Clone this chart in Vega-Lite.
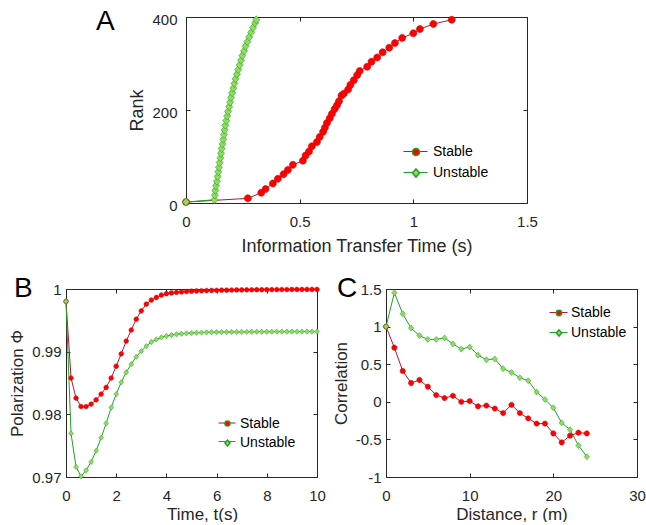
{
  "$schema": "https://vega.github.io/schema/vega-lite/v6.json",
  "background": "white",
  "padding": {"left": 8, "top": 8, "right": 0, "bottom": 0},
  "config": {
    "font": "Liberation Sans",
    "view": {"stroke": null},
    "axis": {
      "grid": false,
      "domainColor": "#262626",
      "domainWidth": 1,
      "tickColor": "#262626",
      "tickWidth": 1,
      "tickSize": -4,
      "labelFontSize": 15,
      "labelColor": "#262626",
      "labelFont": "Liberation Sans",
      "labelFlush": false,
      "labelOverlap": false,
      "labelExpr": "'' + datum.value",
      "titleFontSize": 17,
      "titleFontWeight": "normal",
      "titleColor": "#262626",
      "titleFont": "Liberation Sans"
    },
    "legend": {"labelFontSize": 14, "labelColor": "#000000", "labelFont": "Liberation Sans", "padding": 0},
    "title": {"fontSize": 28, "fontWeight": "normal", "anchor": "start", "frame": "group", "baseline": "alphabetic", "offset": 0, "color": "#000000", "font": "Liberation Sans"}
  },
  "datasets": {
    "rank": [
      {"series": "Stable", "time": 0, "rank": 2},
      {"series": "Stable", "time": 0.272, "rank": 10},
      {"series": "Stable", "time": 0.331, "rank": 22},
      {"series": "Stable", "time": 0.35, "rank": 30},
      {"series": "Stable", "time": 0.382, "rank": 42},
      {"series": "Stable", "time": 0.404, "rank": 52},
      {"series": "Stable", "time": 0.429, "rank": 62},
      {"series": "Stable", "time": 0.448, "rank": 71},
      {"series": "Stable", "time": 0.47, "rank": 82},
      {"series": "Stable", "time": 0.514, "rank": 91},
      {"series": "Stable", "time": 0.526, "rank": 102},
      {"series": "Stable", "time": 0.541, "rank": 111},
      {"series": "Stable", "time": 0.554, "rank": 122},
      {"series": "Stable", "time": 0.576, "rank": 131},
      {"series": "Stable", "time": 0.588, "rank": 142},
      {"series": "Stable", "time": 0.603, "rank": 153},
      {"series": "Stable", "time": 0.611, "rank": 162},
      {"series": "Stable", "time": 0.62, "rank": 172},
      {"series": "Stable", "time": 0.632, "rank": 182},
      {"series": "Stable", "time": 0.642, "rank": 192},
      {"series": "Stable", "time": 0.654, "rank": 202},
      {"series": "Stable", "time": 0.664, "rank": 210},
      {"series": "Stable", "time": 0.673, "rank": 219},
      {"series": "Stable", "time": 0.684, "rank": 231},
      {"series": "Stable", "time": 0.694, "rank": 235},
      {"series": "Stable", "time": 0.713, "rank": 244},
      {"series": "Stable", "time": 0.723, "rank": 254},
      {"series": "Stable", "time": 0.738, "rank": 264},
      {"series": "Stable", "time": 0.753, "rank": 275},
      {"series": "Stable", "time": 0.764, "rank": 284},
      {"series": "Stable", "time": 0.797, "rank": 293},
      {"series": "Stable", "time": 0.816, "rank": 304},
      {"series": "Stable", "time": 0.841, "rank": 313},
      {"series": "Stable", "time": 0.865, "rank": 324},
      {"series": "Stable", "time": 0.894, "rank": 334},
      {"series": "Stable", "time": 0.919, "rank": 344},
      {"series": "Stable", "time": 0.951, "rank": 355},
      {"series": "Stable", "time": 1.0, "rank": 365},
      {"series": "Stable", "time": 1.029, "rank": 374},
      {"series": "Stable", "time": 1.088, "rank": 385},
      {"series": "Stable", "time": 1.169, "rank": 394},
      {"series": "Unstable", "time": 0, "rank": 2},
      {"series": "Unstable", "time": 0.125, "rank": 7},
      {"series": "Unstable", "time": 0.127, "rank": 17},
      {"series": "Unstable", "time": 0.129, "rank": 27},
      {"series": "Unstable", "time": 0.132, "rank": 37},
      {"series": "Unstable", "time": 0.136, "rank": 47},
      {"series": "Unstable", "time": 0.139, "rank": 57},
      {"series": "Unstable", "time": 0.142, "rank": 67},
      {"series": "Unstable", "time": 0.145, "rank": 77},
      {"series": "Unstable", "time": 0.148, "rank": 87},
      {"series": "Unstable", "time": 0.151, "rank": 97},
      {"series": "Unstable", "time": 0.154, "rank": 107},
      {"series": "Unstable", "time": 0.157, "rank": 117},
      {"series": "Unstable", "time": 0.161, "rank": 127},
      {"series": "Unstable", "time": 0.164, "rank": 137},
      {"series": "Unstable", "time": 0.167, "rank": 147},
      {"series": "Unstable", "time": 0.17, "rank": 157},
      {"series": "Unstable", "time": 0.173, "rank": 167},
      {"series": "Unstable", "time": 0.177, "rank": 177},
      {"series": "Unstable", "time": 0.181, "rank": 187},
      {"series": "Unstable", "time": 0.185, "rank": 197},
      {"series": "Unstable", "time": 0.19, "rank": 207},
      {"series": "Unstable", "time": 0.194, "rank": 217},
      {"series": "Unstable", "time": 0.198, "rank": 227},
      {"series": "Unstable", "time": 0.203, "rank": 237},
      {"series": "Unstable", "time": 0.208, "rank": 247},
      {"series": "Unstable", "time": 0.213, "rank": 257},
      {"series": "Unstable", "time": 0.218, "rank": 267},
      {"series": "Unstable", "time": 0.224, "rank": 277},
      {"series": "Unstable", "time": 0.23, "rank": 287},
      {"series": "Unstable", "time": 0.236, "rank": 297},
      {"series": "Unstable", "time": 0.242, "rank": 307},
      {"series": "Unstable", "time": 0.248, "rank": 317},
      {"series": "Unstable", "time": 0.255, "rank": 327},
      {"series": "Unstable", "time": 0.262, "rank": 337},
      {"series": "Unstable", "time": 0.27, "rank": 347},
      {"series": "Unstable", "time": 0.278, "rank": 357},
      {"series": "Unstable", "time": 0.287, "rank": 367},
      {"series": "Unstable", "time": 0.295, "rank": 377},
      {"series": "Unstable", "time": 0.304, "rank": 387},
      {"series": "Unstable", "time": 0.309, "rank": 394}
    ],
    "pol": [
      {"series": "Stable", "t": 0, "phi": 0.99802},
      {"series": "Stable", "t": 0.2, "phi": 0.9858},
      {"series": "Stable", "t": 0.4, "phi": 0.98259},
      {"series": "Stable", "t": 0.6, "phi": 0.98125},
      {"series": "Stable", "t": 0.8, "phi": 0.98125},
      {"series": "Stable", "t": 1.0, "phi": 0.98163},
      {"series": "Stable", "t": 1.2, "phi": 0.98232},
      {"series": "Stable", "t": 1.4, "phi": 0.98323},
      {"series": "Stable", "t": 1.6, "phi": 0.9843},
      {"series": "Stable", "t": 1.8, "phi": 0.9858},
      {"series": "Stable", "t": 2.0, "phi": 0.98768},
      {"series": "Stable", "t": 2.2, "phi": 0.98966},
      {"series": "Stable", "t": 2.4, "phi": 0.9917},
      {"series": "Stable", "t": 2.6, "phi": 0.99346},
      {"series": "Stable", "t": 2.8, "phi": 0.99518},
      {"series": "Stable", "t": 3.0, "phi": 0.99652},
      {"series": "Stable", "t": 3.2, "phi": 0.99759},
      {"series": "Stable", "t": 3.4, "phi": 0.99823},
      {"series": "Stable", "t": 3.6, "phi": 0.99866},
      {"series": "Stable", "t": 3.8, "phi": 0.99904},
      {"series": "Stable", "t": 4.0, "phi": 0.99925},
      {"series": "Stable", "t": 4.2, "phi": 0.99938},
      {"series": "Stable", "t": 4.4, "phi": 0.99947},
      {"series": "Stable", "t": 4.6, "phi": 0.99954},
      {"series": "Stable", "t": 4.8, "phi": 0.9996},
      {"series": "Stable", "t": 5.0, "phi": 0.99965},
      {"series": "Stable", "t": 5.2, "phi": 0.99969},
      {"series": "Stable", "t": 5.4, "phi": 0.99972},
      {"series": "Stable", "t": 5.6, "phi": 0.99975},
      {"series": "Stable", "t": 5.8, "phi": 0.99977},
      {"series": "Stable", "t": 6.0, "phi": 0.99979},
      {"series": "Stable", "t": 6.2, "phi": 0.99981},
      {"series": "Stable", "t": 6.4, "phi": 0.99982},
      {"series": "Stable", "t": 6.6, "phi": 0.99984},
      {"series": "Stable", "t": 6.8, "phi": 0.99985},
      {"series": "Stable", "t": 7.0, "phi": 0.99986},
      {"series": "Stable", "t": 7.2, "phi": 0.99987},
      {"series": "Stable", "t": 7.4, "phi": 0.99988},
      {"series": "Stable", "t": 7.6, "phi": 0.99989},
      {"series": "Stable", "t": 7.8, "phi": 0.99989},
      {"series": "Stable", "t": 8.0, "phi": 0.9999},
      {"series": "Stable", "t": 8.2, "phi": 0.99991},
      {"series": "Stable", "t": 8.4, "phi": 0.99991},
      {"series": "Stable", "t": 8.6, "phi": 0.99992},
      {"series": "Stable", "t": 8.8, "phi": 0.99992},
      {"series": "Stable", "t": 9.0, "phi": 0.99993},
      {"series": "Stable", "t": 9.2, "phi": 0.99993},
      {"series": "Stable", "t": 9.4, "phi": 0.99993},
      {"series": "Stable", "t": 9.6, "phi": 0.99994},
      {"series": "Stable", "t": 9.8, "phi": 0.99994},
      {"series": "Stable", "t": 10.0, "phi": 0.99994},
      {"series": "Unstable", "t": 0, "phi": 0.99802},
      {"series": "Unstable", "t": 0.2, "phi": 0.97696},
      {"series": "Unstable", "t": 0.4, "phi": 0.97161},
      {"series": "Unstable", "t": 0.6, "phi": 0.97011},
      {"series": "Unstable", "t": 0.8, "phi": 0.97107},
      {"series": "Unstable", "t": 1.0, "phi": 0.97241},
      {"series": "Unstable", "t": 1.2, "phi": 0.97418},
      {"series": "Unstable", "t": 1.4, "phi": 0.97627},
      {"series": "Unstable", "t": 1.6, "phi": 0.97857},
      {"series": "Unstable", "t": 1.8, "phi": 0.98109},
      {"series": "Unstable", "t": 2.0, "phi": 0.98323},
      {"series": "Unstable", "t": 2.2, "phi": 0.98511},
      {"series": "Unstable", "t": 2.4, "phi": 0.98671},
      {"series": "Unstable", "t": 2.6, "phi": 0.988},
      {"series": "Unstable", "t": 2.8, "phi": 0.98918},
      {"series": "Unstable", "t": 3.0, "phi": 0.99009},
      {"series": "Unstable", "t": 3.2, "phi": 0.99089},
      {"series": "Unstable", "t": 3.4, "phi": 0.99154},
      {"series": "Unstable", "t": 3.6, "phi": 0.99196},
      {"series": "Unstable", "t": 3.8, "phi": 0.99229},
      {"series": "Unstable", "t": 4.0, "phi": 0.9925},
      {"series": "Unstable", "t": 4.2, "phi": 0.99266},
      {"series": "Unstable", "t": 4.4, "phi": 0.99277},
      {"series": "Unstable", "t": 4.6, "phi": 0.99286},
      {"series": "Unstable", "t": 4.8, "phi": 0.99293},
      {"series": "Unstable", "t": 5.0, "phi": 0.99298},
      {"series": "Unstable", "t": 5.2, "phi": 0.99302},
      {"series": "Unstable", "t": 5.4, "phi": 0.99305},
      {"series": "Unstable", "t": 5.6, "phi": 0.99308},
      {"series": "Unstable", "t": 5.8, "phi": 0.9931},
      {"series": "Unstable", "t": 6.0, "phi": 0.99312},
      {"series": "Unstable", "t": 6.2, "phi": 0.99313},
      {"series": "Unstable", "t": 6.4, "phi": 0.99314},
      {"series": "Unstable", "t": 6.6, "phi": 0.99315},
      {"series": "Unstable", "t": 6.8, "phi": 0.99316},
      {"series": "Unstable", "t": 7.0, "phi": 0.99316},
      {"series": "Unstable", "t": 7.2, "phi": 0.99317},
      {"series": "Unstable", "t": 7.4, "phi": 0.99317},
      {"series": "Unstable", "t": 7.6, "phi": 0.99318},
      {"series": "Unstable", "t": 7.8, "phi": 0.99318},
      {"series": "Unstable", "t": 8.0, "phi": 0.99318},
      {"series": "Unstable", "t": 8.2, "phi": 0.99319},
      {"series": "Unstable", "t": 8.4, "phi": 0.99319},
      {"series": "Unstable", "t": 8.6, "phi": 0.99319},
      {"series": "Unstable", "t": 8.8, "phi": 0.99319},
      {"series": "Unstable", "t": 9.0, "phi": 0.9932},
      {"series": "Unstable", "t": 9.2, "phi": 0.9932},
      {"series": "Unstable", "t": 9.4, "phi": 0.9932},
      {"series": "Unstable", "t": 9.6, "phi": 0.9932},
      {"series": "Unstable", "t": 9.8, "phi": 0.9932},
      {"series": "Unstable", "t": 10.0, "phi": 0.9932}
    ],
    "corr": [
      {"series": "Stable", "r": 0, "c": 1.0},
      {"series": "Stable", "r": 1, "c": 0.72},
      {"series": "Stable", "r": 2, "c": 0.41},
      {"series": "Stable", "r": 3, "c": 0.25},
      {"series": "Stable", "r": 4, "c": 0.29},
      {"series": "Stable", "r": 5, "c": 0.2},
      {"series": "Stable", "r": 6, "c": 0.09},
      {"series": "Stable", "r": 7, "c": 0.05},
      {"series": "Stable", "r": 8, "c": 0.08},
      {"series": "Stable", "r": 9, "c": 0.0},
      {"series": "Stable", "r": 10, "c": 0.01},
      {"series": "Stable", "r": 11, "c": -0.06},
      {"series": "Stable", "r": 12, "c": -0.05},
      {"series": "Stable", "r": 13, "c": -0.09},
      {"series": "Stable", "r": 14, "c": -0.15},
      {"series": "Stable", "r": 15, "c": -0.04},
      {"series": "Stable", "r": 16, "c": -0.15},
      {"series": "Stable", "r": 17, "c": -0.22},
      {"series": "Stable", "r": 18, "c": -0.29},
      {"series": "Stable", "r": 19, "c": -0.29},
      {"series": "Stable", "r": 20, "c": -0.42},
      {"series": "Stable", "r": 21, "c": -0.54},
      {"series": "Stable", "r": 22, "c": -0.45},
      {"series": "Stable", "r": 23, "c": -0.41},
      {"series": "Stable", "r": 24, "c": -0.42},
      {"series": "Unstable", "r": 0, "c": 1.0},
      {"series": "Unstable", "r": 1, "c": 1.45},
      {"series": "Unstable", "r": 2, "c": 1.17},
      {"series": "Unstable", "r": 3, "c": 0.98},
      {"series": "Unstable", "r": 4, "c": 0.88},
      {"series": "Unstable", "r": 5, "c": 0.83},
      {"series": "Unstable", "r": 6, "c": 0.83},
      {"series": "Unstable", "r": 7, "c": 0.85},
      {"series": "Unstable", "r": 8, "c": 0.77},
      {"series": "Unstable", "r": 9, "c": 0.7},
      {"series": "Unstable", "r": 10, "c": 0.73},
      {"series": "Unstable", "r": 11, "c": 0.62},
      {"series": "Unstable", "r": 12, "c": 0.56},
      {"series": "Unstable", "r": 13, "c": 0.57},
      {"series": "Unstable", "r": 14, "c": 0.44},
      {"series": "Unstable", "r": 15, "c": 0.39},
      {"series": "Unstable", "r": 16, "c": 0.32},
      {"series": "Unstable", "r": 17, "c": 0.28},
      {"series": "Unstable", "r": 18, "c": 0.13},
      {"series": "Unstable", "r": 19, "c": 0.03},
      {"series": "Unstable", "r": 20, "c": -0.08},
      {"series": "Unstable", "r": 21, "c": -0.28},
      {"series": "Unstable", "r": 22, "c": -0.37},
      {"series": "Unstable", "r": 23, "c": -0.58},
      {"series": "Unstable", "r": 24, "c": -0.73}
    ]
  },
  "spacing": 19,
  "resolve": {"scale": {"stroke": "independent", "fill": "independent", "shape": "independent"}},
  "vconcat": [
    {
      "spacing": 21,
      "resolve": {"scale": {"stroke": "independent", "fill": "independent", "shape": "independent"}},
      "hconcat": [
        {
          "width": 9,
          "height": 1,
          "data": {"values": []},
          "mark": "point",
          "encoding": {}
        },
        {
          "width": 341,
          "height": 186,
          "title": {"text": "A", "dx": -90, "dy": 28},
          "data": {"name": "rank"},
          "resolve": {"axis": {"x": "independent", "y": "independent"}},
          "layer": [
            {
              "mark": {"type": "line", "strokeWidth": 1},
              "encoding": {
                "x": {"field": "time", "type": "quantitative", "scale": {"domain": [0, 1.5], "nice": false, "zero": false},
                      "axis": {"orient": "bottom", "values": [0, 0.5, 1, 1.5], "title": "Information Transfer Time (s)", "titleFontSize": 18, "labelPadding": 15, "titlePadding": 8}},
                "y": {"field": "rank", "type": "quantitative", "scale": {"domain": [0, 400], "nice": false, "zero": false},
                      "axis": {"orient": "left", "values": [0, 200, 400], "title": "Rank", "titleFontSize": 18, "labelPadding": 13, "titlePadding": 5, "labelOffset": 2}},
                "stroke": {"field": "series", "type": "nominal",
                           "scale": {"domain": ["Stable", "Unstable"], "range": ["#b5172d", "#22a022"]},
                           "legend": {"orient": "none", "legendX": 217, "legendY": 122, "title": null, "symbolType": "stroke", "symbolSize": 576, "symbolStrokeWidth": 1, "labelOpacity": 0, "rowPadding": 1, "labelOffset": 4}}
              }
            },
            {
              "mark": {"type": "point", "filled": true, "opacity": 1, "size": 544, "strokeWidth": 0.6},
              "encoding": {
                "x": {"field": "time", "type": "quantitative", "axis": {"orient": "top", "values": [0, 0.5, 1, 1.5], "labels": false, "title": null}},
                "y": {"field": "rank", "type": "quantitative", "axis": {"orient": "right", "values": [0, 200, 400], "labels": false, "title": null}},
                "fill": {"field": "series", "type": "nominal", "scale": {"range": ["#ff0000", "#8fdd5f"]},
                         "legend": {"orient": "none", "legendX": 217, "legendY": 122, "title": null, "symbolSize": 576, "rowPadding": 1, "labelOffset": 4}},
                "shape": {"field": "series", "type": "nominal",
                          "scale": {"range": ["M0.3,0A0.3,0.3,0,1,1,-0.3,0A0.3,0.3,0,1,1,0.3,0Z", "M0,-0.34L0.3,0L0,0.34L-0.3,0Z"]},
                          "legend": {"orient": "none", "legendX": 217, "legendY": 122, "title": null, "symbolSize": 576, "rowPadding": 1, "labelOffset": 4}},
                "stroke": {"condition": {"test": "datum.series === 'Stable'", "value": "#cc0000"}, "value": "#22a022"}
              }
            }
          ]
        }
      ]
    },
    {
      "spacing": 6,
      "resolve": {"scale": {"stroke": "independent", "fill": "independent", "shape": "independent"}},
      "hconcat": [
        {
          "width": 251,
          "height": 188,
          "title": {"text": "B", "dx": -52, "dy": 25},
          "data": {"name": "pol"},
          "resolve": {"axis": {"x": "independent", "y": "independent"}},
          "layer": [
            {
              "mark": {"type": "line", "strokeWidth": 1},
              "encoding": {
                "x": {"field": "t", "type": "quantitative", "scale": {"domain": [0, 10], "nice": false, "zero": false},
                      "axis": {"orient": "bottom", "values": [0, 2, 4, 6, 8, 10], "title": "Time, t(s)", "titleX": 136, "labelPadding": 15, "titlePadding": 3}},
                "y": {"field": "phi", "type": "quantitative", "scale": {"domain": [0.97, 1], "nice": false, "zero": false},
                      "axis": {"orient": "left", "values": [0.97, 0.98, 0.99, 1], "title": "Polarization Φ", "labelPadding": 9, "titlePadding": 5}},
                "stroke": {"field": "series", "type": "nominal",
                           "scale": {"domain": ["Stable", "Unstable"], "range": ["#b5172d", "#22a022"]},
                           "legend": {"orient": "none", "legendX": 152, "legendY": 125, "title": null, "symbolType": "stroke", "symbolSize": 289, "symbolStrokeWidth": 1, "labelOpacity": 0, "rowPadding": 2.5, "labelOffset": 3}}
              }
            },
            {
              "mark": {"type": "point", "filled": true, "opacity": 1, "size": 245, "strokeWidth": 0.5},
              "encoding": {
                "x": {"field": "t", "type": "quantitative", "axis": {"orient": "top", "values": [0, 2, 4, 6, 8, 10], "labels": false, "title": null}},
                "y": {"field": "phi", "type": "quantitative", "axis": {"orient": "right", "values": [0.97, 0.98, 0.99, 1], "labels": false, "title": null}},
                "fill": {"field": "series", "type": "nominal", "scale": {"range": ["#ff0000", "#8fdd5f"]},
                         "legend": {"orient": "none", "legendX": 152, "legendY": 125, "title": null, "symbolSize": 289, "rowPadding": 2.5, "labelOffset": 3}},
                "shape": {"field": "series", "type": "nominal",
                          "scale": {"range": ["M0.3,0A0.3,0.3,0,1,1,-0.3,0A0.3,0.3,0,1,1,0.3,0Z", "M0,-0.34L0.3,0L0,0.34L-0.3,0Z"]},
                          "legend": {"orient": "none", "legendX": 152, "legendY": 125, "title": null, "symbolSize": 289, "rowPadding": 2.5, "labelOffset": 3}},
                "stroke": {"condition": {"test": "datum.series === 'Stable'", "value": "#cc0000"}, "value": "#22a022"}
              }
            }
          ]
        },
        {
          "width": 251,
          "height": 188,
          "title": {"text": "C", "dx": -49, "dy": 24.5},
          "data": {"name": "corr"},
          "resolve": {"axis": {"x": "independent", "y": "independent"}},
          "layer": [
            {
              "mark": {"type": "line", "strokeWidth": 1},
              "encoding": {
                "x": {"field": "r", "type": "quantitative", "scale": {"domain": [0, 30], "nice": false, "zero": false},
                      "axis": {"orient": "bottom", "values": [0, 10, 20, 30], "title": "Distance, r (m)", "labelPadding": 15, "titlePadding": 3}},
                "y": {"field": "c", "type": "quantitative", "scale": {"domain": [-1, 1.5], "nice": false, "zero": false},
                      "axis": {"orient": "left", "values": [-1, -0.5, 0, 0.5, 1, 1.5], "title": "Correlation", "labelPadding": 9, "titlePadding": 5}},
                "stroke": {"field": "series", "type": "nominal",
                           "scale": {"domain": ["Stable", "Unstable"], "range": ["#b5172d", "#22a022"]},
                           "legend": {"orient": "none", "legendX": 163, "legendY": 14, "title": null, "symbolType": "stroke", "symbolSize": 324, "symbolStrokeWidth": 1, "labelOpacity": 0, "rowPadding": 3, "labelOffset": 2}}
              }
            },
            {
              "mark": {"type": "point", "filled": true, "opacity": 1, "size": 312, "strokeWidth": 0.5},
              "encoding": {
                "x": {"field": "r", "type": "quantitative", "axis": {"orient": "top", "values": [0, 10, 20, 30], "labels": false, "title": null}},
                "y": {"field": "c", "type": "quantitative", "axis": {"orient": "right", "values": [-1, -0.5, 0, 0.5, 1, 1.5], "labels": false, "title": null}},
                "fill": {"field": "series", "type": "nominal", "scale": {"range": ["#ff0000", "#8fdd5f"]},
                         "legend": {"orient": "none", "legendX": 163, "legendY": 14, "title": null, "symbolSize": 324, "rowPadding": 3, "labelOffset": 2}},
                "shape": {"field": "series", "type": "nominal",
                          "scale": {"range": ["M0.3,0A0.3,0.3,0,1,1,-0.3,0A0.3,0.3,0,1,1,0.3,0Z", "M0,-0.34L0.3,0L0,0.34L-0.3,0Z"]},
                          "legend": {"orient": "none", "legendX": 163, "legendY": 14, "title": null, "symbolSize": 324, "rowPadding": 3, "labelOffset": 2}},
                "stroke": {"condition": {"test": "datum.series === 'Stable'", "value": "#cc0000"}, "value": "#22a022"}
              }
            }
          ]
        }
      ]
    }
  ]
}
